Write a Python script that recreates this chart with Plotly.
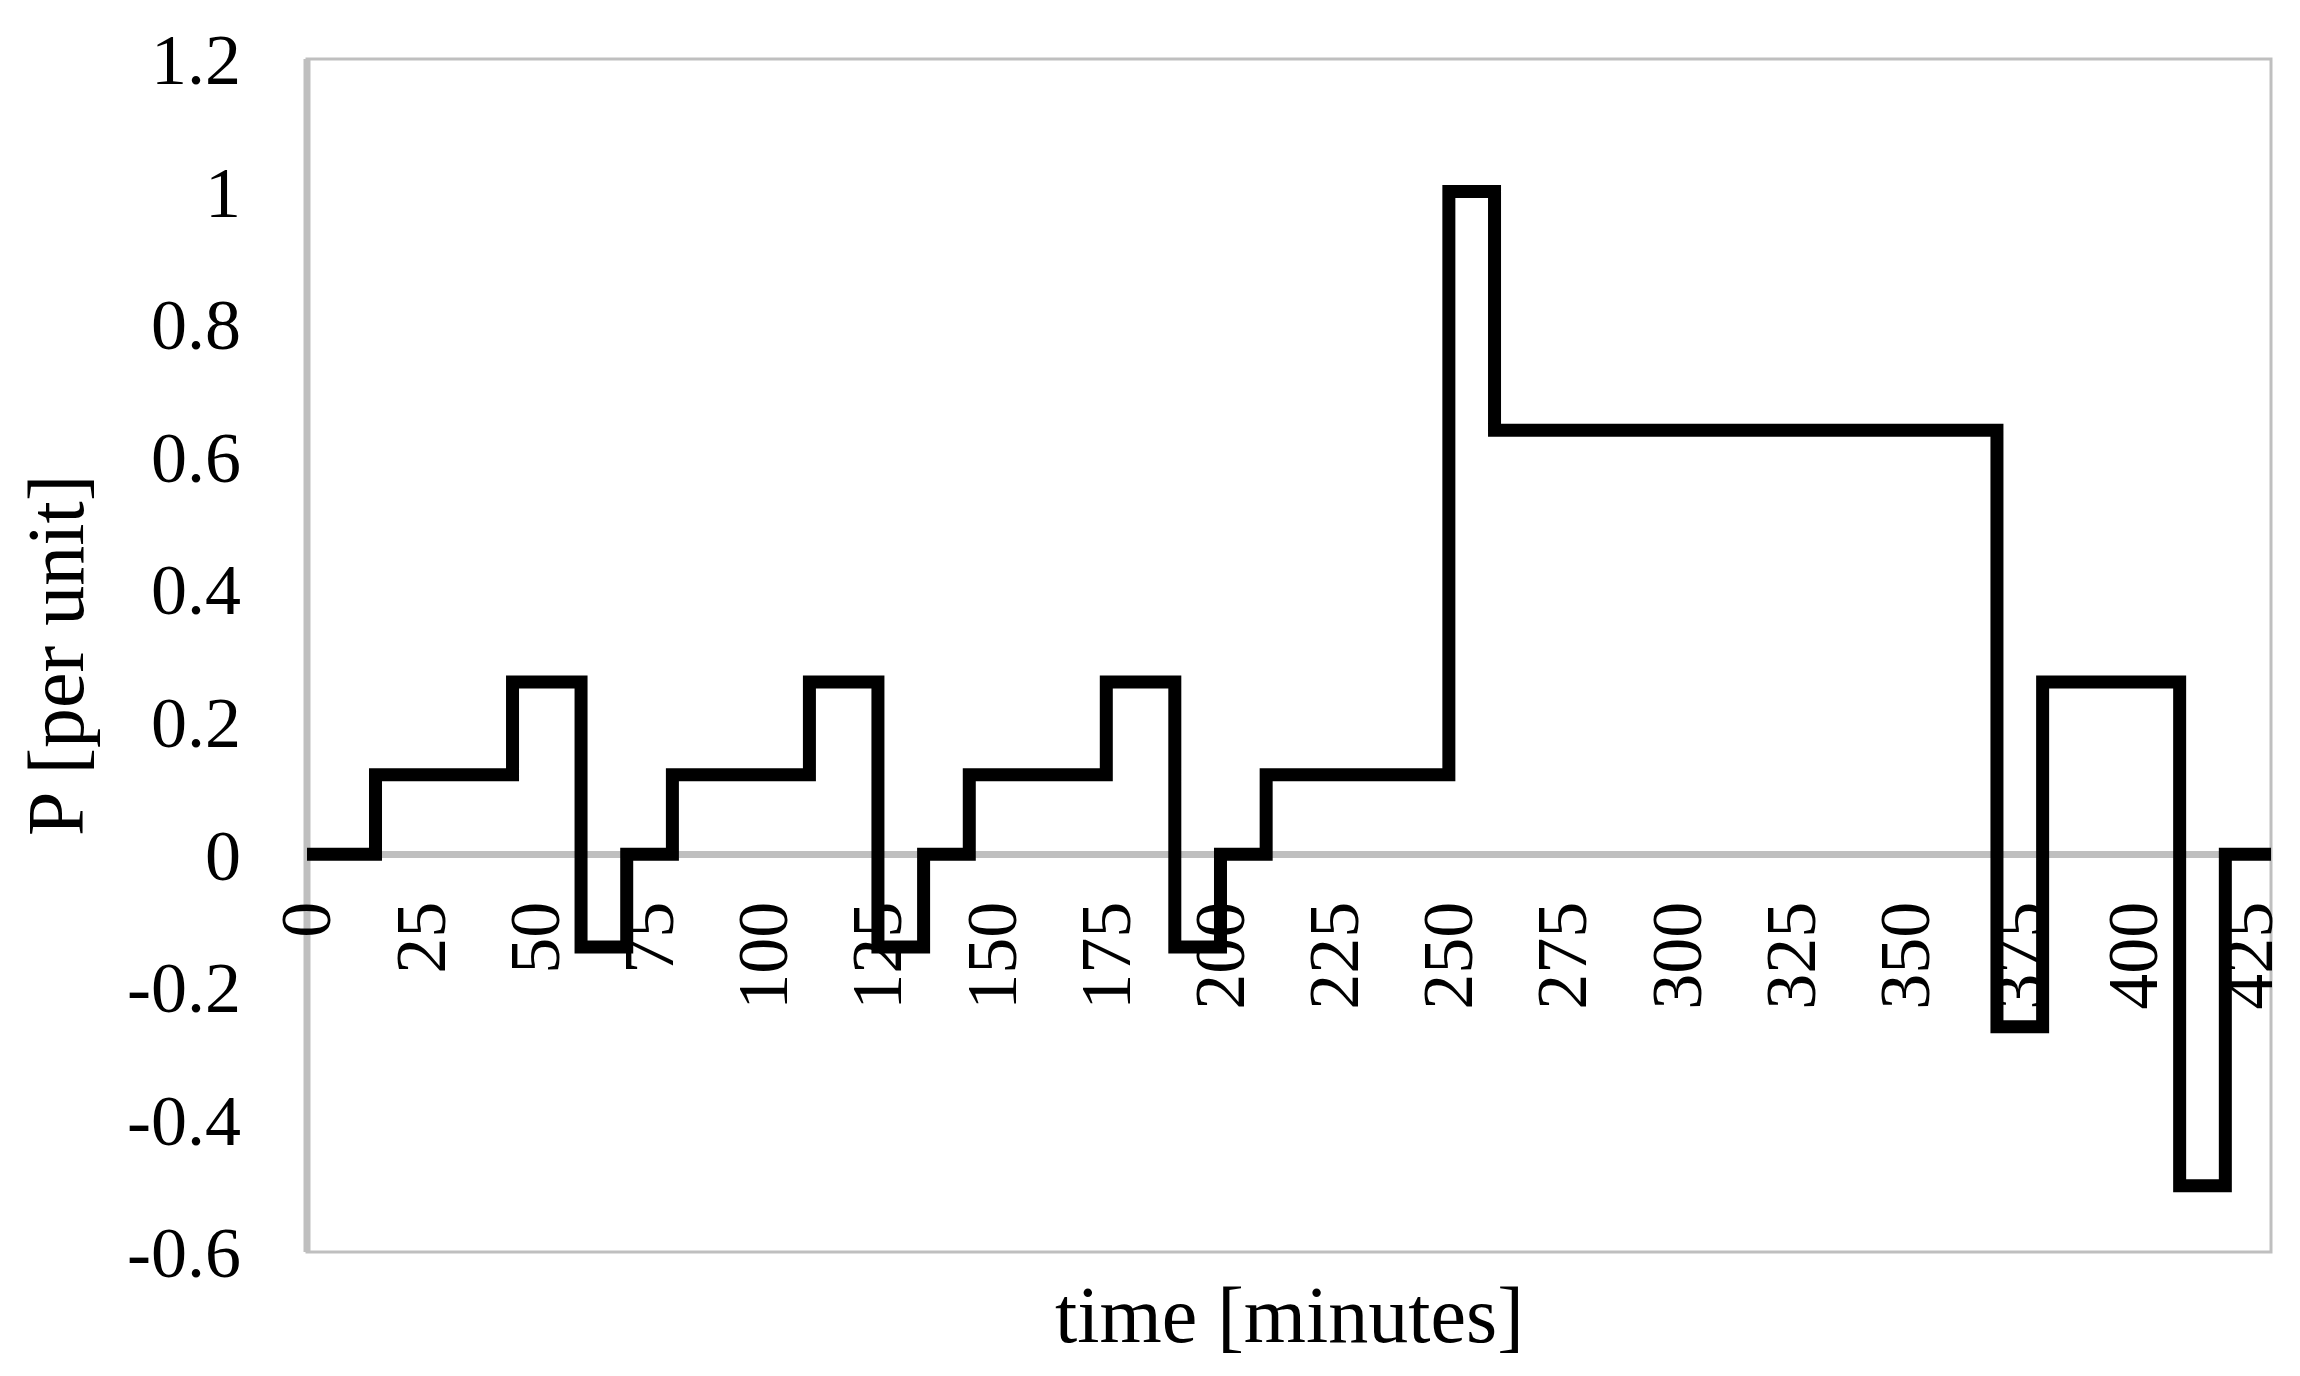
import plotly.graph_objects as go

# Step breakpoints (minutes) and the power level that starts at each breakpoint
time_min = [0, 15, 45, 60, 70, 80, 110, 125, 135, 145, 175, 190, 200, 210,
            250, 260, 370, 380, 410, 420, 430]
power_pu = [0, 0.12, 0.26, -0.14, 0, 0.12, 0.26, -0.14, 0, 0.12, 0.26, -0.14, 0, 0.12,
            1.0, 0.64, -0.26, 0.26, -0.5, 0, 0]

x_ticks = list(range(0, 426, 25))
x_tick_text = [str(v) for v in x_ticks]
y_ticks = [-0.6, -0.4, -0.2, 0, 0.2, 0.4, 0.6, 0.8, 1.0, 1.2]
y_tick_text = ["-0.6", "-0.4", "-0.2", "0", "0.2", "0.4", "0.6", "0.8", "1", "1.2"]

FONT = "Liberation Serif, Times New Roman, serif"
GRAY = "#BFBFBF"

fig = go.Figure()
fig.add_trace(go.Scatter(
    x=time_min, y=power_pu, mode="lines", line_shape="hv",
    line=dict(color="black", width=13), showlegend=False, hoverinfo="skip",
))

y_min, y_max = -0.6, 1.2
zero_pos = (0 - y_min) / (y_max - y_min)

fig.update_layout(
    width=2292, height=1368,
    margin=dict(l=299, r=25, t=48, b=124),
    paper_bgcolor="white", plot_bgcolor="white",
    font=dict(family=FONT, color="black", size=72),
    xaxis=dict(
        range=[0, 430], tickvals=x_ticks, ticktext=x_tick_text, tickangle=-90,
        showgrid=False, zeroline=False, showline=False, ticks="",
        anchor="free", position=zero_pos, ticklabelstandoff=32,
        tickfont=dict(family=FONT, size=72, color="black"),
    ),
    yaxis=dict(
        range=[y_min, y_max], tickvals=y_ticks, ticktext=y_tick_text,
        showgrid=False, zeroline=True, zerolinecolor=GRAY, zerolinewidth=7,
        showline=False, ticks="", ticklabelstandoff=65,
        tickfont=dict(family=FONT, size=72, color="black"),
    ),
    shapes=[
        dict(type="rect", xref="paper", yref="paper", x0=0, x1=1, y0=0, y1=1,
             line=dict(color=GRAY, width=3), layer="below"),
        dict(type="line", xref="paper", yref="paper", x0=0, x1=0, y0=0, y1=1,
             line=dict(color=GRAY, width=7), layer="below"),
    ],
    annotations=[
        dict(text="time [minutes]", xref="paper", yref="paper", x=0.5, y=-0.053,
             xanchor="center", yanchor="middle", showarrow=False,
             font=dict(family=FONT, size=80, color="black")),
        dict(text="P [per unit]", xref="paper", yref="paper", x=-0.128, y=0.5,
             xanchor="center", yanchor="middle", textangle=-90, showarrow=False,
             font=dict(family=FONT, size=80, color="black")),
    ],
)

fig.write_html("out.html")
